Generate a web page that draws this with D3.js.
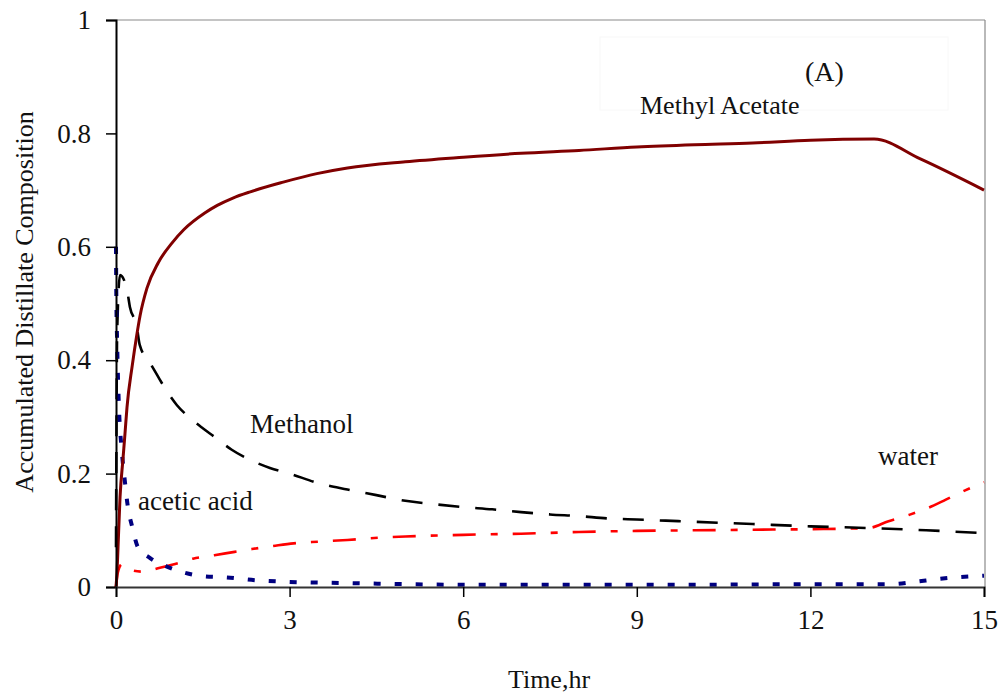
<!DOCTYPE html>
<html>
<head>
<meta charset="utf-8">
<script src="https://cdn.jsdelivr.net/npm/d3@7"></script>
<style>
  html, body { margin: 0; padding: 0; background: #fff; }
  svg { display: block; }
  text { font-family: "Liberation Serif", "Times New Roman", serif; fill: #111; }
</style>
</head>
<body>
<svg id="chart" width="1004" height="700"></svg>
<script>
// ---------------- data ----------------
const xTicks = [0, 3, 6, 9, 12, 15];
const xTickLabels = ["0", "3", "6", "9", "12", "15"];
const yTicks = [0, 0.2, 0.4, 0.6, 0.8, 1];
const yTickLabels = ["0", "0.2", "0.4", "0.6", "0.8", "1"];

const maTime  = [0, 0.017, 0.035, 0.07, 0.12, 0.155, 0.19, 0.28, 0.36, 0.415, 0.535, 0.73, 0.97, 1.17, 1.54, 1.75, 2.02, 2.32, 2.89, 3.47, 4, 5, 6, 7, 8, 9, 10, 11, 12, 13.1, 13.9, 15];
const maValue = [0, 0.025, 0.07, 0.159, 0.225, 0.27, 0.317, 0.39, 0.445, 0.478, 0.527, 0.572, 0.607, 0.63, 0.66, 0.673, 0.686, 0.697, 0.714, 0.729, 0.739, 0.75, 0.758, 0.765, 0.77, 0.776, 0.78, 0.783, 0.788, 0.79, 0.755, 0.70];

const meTime  = [0, 0.02, 0.07, 0.19, 0.24, 0.36, 0.41, 0.59, 0.71, 0.9, 1.05, 1.28, 1.5, 1.7, 2.0, 2.3, 2.66, 3.0, 3.5, 4.0, 4.5, 5, 5.5, 6, 6.5, 7, 7.5, 8, 8.5, 9, 9.5, 10, 11, 12, 13, 14, 15];
const meValue = [0.07, 0.45, 0.55, 0.524, 0.494, 0.459, 0.427, 0.395, 0.374, 0.342, 0.321, 0.298, 0.28, 0.265, 0.242, 0.225, 0.21, 0.2, 0.183, 0.172, 0.162, 0.152, 0.146, 0.141, 0.137, 0.132, 0.128, 0.125, 0.121, 0.119, 0.117, 0.115, 0.111, 0.107, 0.104, 0.1, 0.095];

const aaTime  = [0, 0.005, 0.02, 0.05, 0.1, 0.155, 0.2, 0.28, 0.38, 0.59, 0.9, 1.19, 1.5, 1.9, 2.4, 3, 4, 5, 6, 8, 10, 12, 13.4, 13.8, 14.2, 14.5, 15];
const aaValue = [0.6, 0.52, 0.43, 0.32, 0.24, 0.185, 0.145, 0.106, 0.07, 0.051, 0.035, 0.025, 0.019, 0.017, 0.012, 0.009, 0.007, 0.005, 0.004, 0.004, 0.004, 0.005, 0.005, 0.009, 0.014, 0.017, 0.02];

const wTime  = [0, 0.03, 0.1, 0.25, 0.45, 0.76, 1.07, 1.33, 1.7, 2.05, 2.35, 2.7, 3.07, 3.5, 4.0, 4.4, 5, 6, 7, 8, 9, 10, 11, 12, 13, 13.35, 13.7, 14.0, 14.3, 14.6, 15];
const wValue = [0, 0.025, 0.04, 0.03, 0.027, 0.034, 0.042, 0.05, 0.056, 0.062, 0.067, 0.072, 0.077, 0.08, 0.083, 0.086, 0.089, 0.092, 0.094, 0.097, 0.099, 0.1, 0.101, 0.102, 0.104, 0.116, 0.127, 0.138, 0.152, 0.167, 0.185];

const seriesNames = ["Methyl Acetate", "Methanol", "acetic acid", "water"];

// ---------------- chart ----------------
const svg = d3.select("#chart");
const pLeft = 116, pRight = 984, pTop = 20, pBottom = 587;

const x = d3.scaleLinear().domain([0, 15]).range([pLeft, pRight]);
const y = d3.scaleLinear().domain([0, 1]).range([pBottom, pTop]);

// frame (gray top/right)
svg.append("line").attr("x1", pLeft).attr("x2", pRight + 1).attr("y1", pTop).attr("y2", pTop)
  .attr("stroke", "#8a8a8a").attr("stroke-width", 1.2);
svg.append("line").attr("x1", pRight + 1).attr("x2", pRight + 1).attr("y1", pTop).attr("y2", pBottom)
  .attr("stroke", "#8a8a8a").attr("stroke-width", 1.2);

// faint label box
svg.append("rect").attr("x", 600).attr("y", 37).attr("width", 348).attr("height", 73)
  .attr("fill", "#fff").attr("stroke", "#f8f8f8").attr("stroke-width", 1);

// lines
const zip = (a, b) => a.map((t, i) => [t, b[i]]);
const line = d3.line().x(d => x(d[0])).y(d => y(d[1])).curve(d3.curveMonotoneX);

svg.append("path").datum(zip(wTime, wValue)).attr("d", line)
  .attr("fill", "none").attr("stroke", "#ff0000").attr("stroke-width", 2.6)
  .attr("stroke-dasharray", "23,15,7,15");

svg.append("path").datum(zip(meTime, meValue)).attr("d", line)
  .attr("fill", "none").attr("stroke", "#000").attr("stroke-width", 2.6)
  .attr("stroke-dasharray", "21,16");

svg.append("path").datum(zip(aaTime, aaValue)).attr("d", line)
  .attr("fill", "none").attr("stroke", "#000080").attr("stroke-width", 4)
  .attr("stroke-dasharray", "7,14");

svg.append("path").datum(zip(maTime, maValue)).attr("d", line)
  .attr("fill", "none").attr("stroke", "#800000").attr("stroke-width", 3);

// axes
const yAxis = d3.axisLeft(y).tickValues(yTicks).tickSize(10).tickPadding(15)
  .tickFormat((d, i) => yTickLabels[i]);
const gy = svg.append("g").attr("transform", `translate(${pLeft},0)`).call(yAxis);
gy.select(".domain").attr("stroke", "#000").attr("stroke-width", 2);
gy.selectAll(".tick line").attr("stroke", "#000").attr("stroke-width", 1.5);
gy.selectAll(".tick text").attr("font-size", 27).attr("fill", "#222")
  .style("font-family", "'Liberation Serif', serif");

const xAxis = d3.axisBottom(x).tickValues(xTicks).tickSize(10).tickPadding(13)
  .tickFormat((d, i) => xTickLabels[i]);
const gx = svg.append("g").attr("transform", `translate(0,${pBottom})`).call(xAxis);
gx.select(".domain").attr("stroke", "#333").attr("stroke-width", 2);
gx.selectAll(".tick line").attr("stroke", "#000").attr("stroke-width", 1.5);
gx.selectAll(".tick text").attr("font-size", 27).attr("fill", "#222")
  .style("font-family", "'Liberation Serif', serif");

// axis titles
svg.append("text").attr("transform", "translate(33,302) rotate(-90)")
  .attr("text-anchor", "middle").attr("font-size", 26).text("Accumulated Distillate Composition");
svg.append("text").attr("x", 549).attr("y", 688)
  .attr("text-anchor", "middle").attr("font-size", 26).text("Time,hr");

// in-plot labels
svg.append("text").attr("x", 805).attr("y", 81).attr("font-size", 28).text("(A)");
svg.append("text").attr("x", 640).attr("y", 114).attr("font-size", 26).text(seriesNames[0]);
svg.append("text").attr("x", 250).attr("y", 433).attr("font-size", 27).text(seriesNames[1]);
svg.append("text").attr("x", 138).attr("y", 510).attr("font-size", 27).text(seriesNames[2]);
svg.append("text").attr("x", 878).attr("y", 465).attr("font-size", 27).text(seriesNames[3]);
</script>
</body>
</html>
